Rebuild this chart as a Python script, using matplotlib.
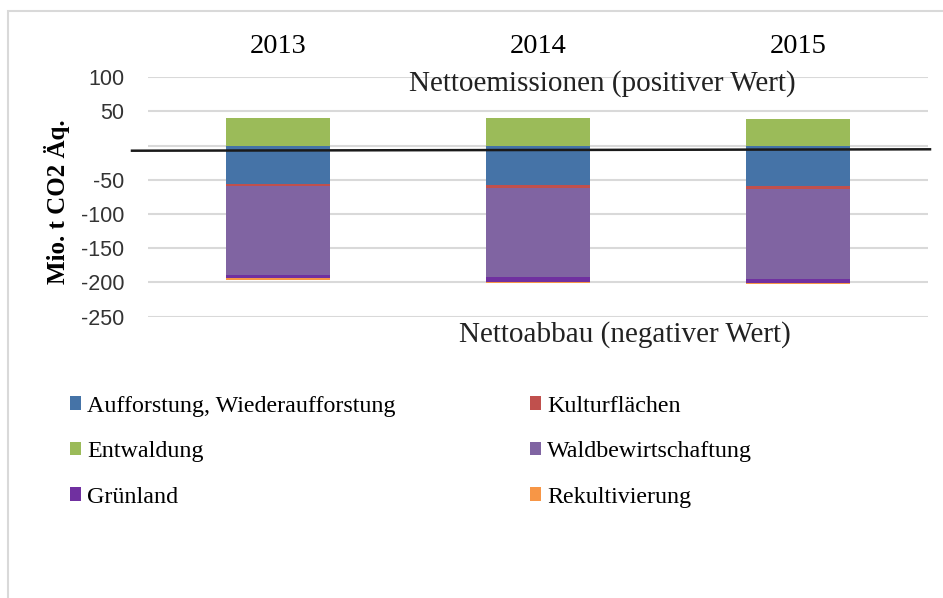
import numpy as np
import matplotlib.pyplot as plt
from matplotlib.lines import Line2D
from matplotlib.patches import Rectangle

# Daten (Mio. t CO2 Äq.)
jahre = ['2013', '2014', '2015']
aufforstung = [-55.3, -56.8, -58.7]
kulturflaechen = [-2.9, -4.8, -5.3]
entwaldung = [41.2, 40.3, 39.3]
waldbewirtschaftung = [-130.6, -131.0, -130.6]
gruenland = [-5.2, -6.8, -6.7]
rekultivierung = [-2.0, -1.5, -1.0]

serien = [
    ('Aufforstung, Wiederaufforstung', aufforstung, '#4573A7'),
    ('Kulturflächen', kulturflaechen, '#C0504D'),
    ('Entwaldung', entwaldung, '#9BBB59'),
    ('Waldbewirtschaftung', waldbewirtschaftung, '#8064A2'),
    ('Grünland', gruenland, '#7030A0'),
    ('Rekultivierung', rekultivierung, '#F79646'),
]

serif = 'Liberation Serif'
sans = 'Liberation Sans'

fig = plt.figure(figsize=(9.43, 5.98), dpi=100)
ax = fig.add_axes([148 / 943, 1 - 316.7 / 598, 780 / 943, 239.4 / 598])

x = np.arange(len(jahre))
pos = np.zeros(len(jahre))
neg = np.zeros(len(jahre))
handles = {}
for name, werte, farbe in serien:
    werte = np.array(werte)
    unten = np.where(werte >= 0, pos, neg)
    b = ax.bar(x, werte, width=0.4, bottom=unten, color=farbe, label=name, zorder=3)
    handles[name] = b
    pos = pos + np.where(werte >= 0, werte, 0)
    neg = neg + np.where(werte < 0, werte, 0)

ax.set_xlim(-0.5, 2.5)
ax.set_ylim(-250, 100)
ax.set_yticks(np.arange(-250, 101, 50))
ax.set_yticklabels(['' if t == 0 else str(t) for t in range(-250, 101, 50)],
                   fontsize=15.5, family=sans, color='#333333')
ax.set_xticks(x)
ax.set_xticklabels(jahre, fontsize=20.5, family=serif)
ax.xaxis.tick_top()
ax.tick_params(axis='both', length=0)
ax.tick_params(axis='x', pad=13)
ax.tick_params(axis='y', pad=17)
ax.grid(axis='y', color='#D9D9D9', linewidth=1.5, zorder=0)
for s in ax.spines.values():
    s.set_visible(False)

ax.set_ylabel('Mio. t CO2 Äq.', fontsize=18, family=serif, fontweight='bold')
ax.yaxis.set_label_coords(-0.1, 0.479)

ax.text(0.583, 0.975, 'Nettoemissionen (positiver Wert)', transform=ax.transAxes,
        ha='center', va='center', fontsize=21, family=serif, color='#222222')
fig.text(625 / 943, 1 - 335 / 598, 'Nettoabbau (negativer Wert)',
         ha='center', va='center', fontsize=21, family=serif, color='#222222')

# schwarze Nulllinie (leicht schräg wie im Original)
fig.add_artist(Line2D([132 / 943, 930 / 943], [1 - 150.7 / 598, 1 - 149.3 / 598],
                      color='#1a1a1a', linewidth=1.8))

# Rahmen
fig.add_artist(Rectangle((8 / 943, -0.01), 1.0, 1 - 11 / 598 + 0.01,
                         transform=fig.transFigure, fill=False,
                         edgecolor='#D9D9D9', linewidth=1.5))

# Legende zeilenweise wie im Original (matplotlib füllt spaltenweise)
reihenfolge = ['Aufforstung, Wiederaufforstung', 'Entwaldung', 'Grünland',
               'Kulturflächen', 'Waldbewirtschaftung', 'Rekultivierung']
fig.legend([handles[n] for n in reihenfolge], reihenfolge, loc='upper left',
           bbox_to_anchor=(48 / 943, 1 - 374 / 598),
           ncol=2, frameon=False, prop={'family': serif, 'size': 17.3},
           handlelength=0.47, handleheight=0.47, handletextpad=0.25,
           columnspacing=5.6, labelspacing=1.02)

fig.savefig('out.png', dpi=100)
